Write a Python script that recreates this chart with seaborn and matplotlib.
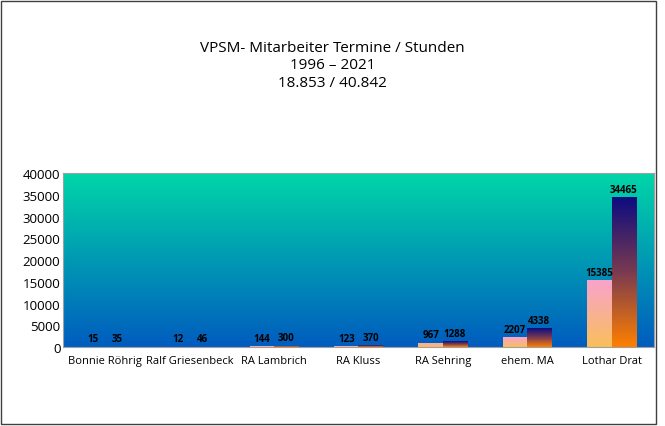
import numpy as np
import pandas as pd
import matplotlib
matplotlib.use("Agg")
import matplotlib.pyplot as plt
import seaborn as sns
from matplotlib.colors import LinearSegmentedColormap
from matplotlib.patches import Rectangle

# data
names = ["Bonnie Röhrig", "Ralf Griesenbeck", "RA Lambrich", "RA Kluss",
         "RA Sehring", "ehem. MA", "Lothar Drat"]
termine = [15, 12, 144, 123, 967, 2207, 15385]
stunden = [35, 46, 300, 370, 1288, 4338, 34465]
yticks = [0, 5000, 10000, 15000, 20000, 25000, 30000, 35000, 40000]

df = pd.DataFrame({
    "Name": names * 2,
    "Wert": termine + stunden,
    "Serie": ["Termine"] * len(names) + ["Stunden"] * len(names),
})

plt.rcParams["font.family"] = "Open Sans"
fig = plt.figure(figsize=(6.65, 4.27), dpi=100)
ax = fig.add_axes([0.095, 0.185, 0.888, 0.407])

sns.barplot(data=df, x="Name", y="Wert", hue="Serie", ax=ax, width=0.58,
            legend=False, saturation=1)
ax.set_ylim(0, 40000)
ax.set_xlim(-0.5, len(names) - 0.5)

# background gradient
bg = LinearSegmentedColormap.from_list("bg", ["#005cbf", "#00d6a8"])
grad = np.linspace(0, 1, 256).reshape(-1, 1)
ax.imshow(grad, cmap=bg, origin="lower", aspect="auto",
          extent=[-0.5, len(names) - 0.5, 0, 40000], zorder=0)

cm1 = LinearSegmentedColormap.from_list("s1", ["#f9bf5a", "#f9a3cc"])
cm2 = LinearSegmentedColormap.from_list("s2", ["#ff8000", "#7a3a50", "#0c0c80"])
n = len(names)
for i, p in enumerate(ax.patches[:2 * n]):
    cm = cm1 if i < n else cm2
    x0, w, h = p.get_x(), p.get_width(), p.get_height()
    p.set_facecolor("none")
    p.set_edgecolor("none")
    im = ax.imshow(grad, cmap=cm, origin="lower", aspect="auto",
                   extent=[x0, x0 + w, 0, max(h, 1)], zorder=2)
    im.set_clip_path(Rectangle((x0, 0), w, max(h, 1), transform=ax.transData))
    ax.text(x0 + w / 2, h + 600, str(int(h)), ha="center", va="bottom",
            fontsize=7, fontweight="bold", color="black", zorder=3)

ax.set_yticks(yticks)
ax.set_yticklabels([str(t) for t in yticks], fontsize=9.5)
ax.tick_params(axis="x", labelsize=8, length=0, pad=6)
ax.tick_params(axis="y", length=0, pad=2)
ax.set_xlabel("")
ax.set_ylabel("")
for s in ax.spines.values():
    s.set_color("#a0a0a0")

fig.text(0.5, 0.905, "VPSM- Mitarbeiter Termine / Stunden\n1996 – 2021\n18.853 / 40.842",
         ha="center", va="top", fontsize=11, linespacing=1.25)
fig.patches.append(Rectangle((0.002, 0.004), 0.985, 0.992, transform=fig.transFigure,
                             fill=False, edgecolor="#404040", linewidth=1))

fig.savefig("out.png", dpi=100)
